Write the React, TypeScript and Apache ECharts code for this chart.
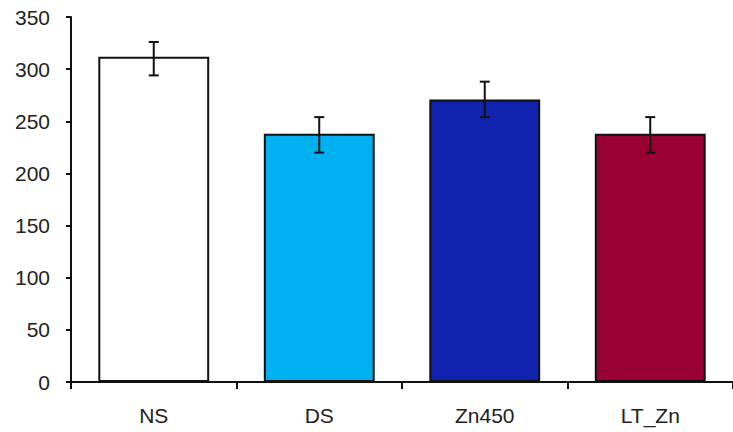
import React, { useEffect, useRef } from "react";
import * as echarts from "echarts";

const categories = ["NS", "DS", "Zn450", "LT_Zn"];
const means = [312, 238, 271, 238];
const errLow = [294, 220, 254, 220];
const errHigh = [326, 254, 288, 254];
const barColors = ["#FFFFFF", "#00B0F0", "#1122AE", "#990033"];
const yTicks = { min: 0, max: 350, interval: 50 };

export default function App() {
  const ref = useRef<HTMLDivElement>(null);
  useEffect(() => {
    if (!ref.current) return;
    const chart = echarts.init(ref.current, null, { renderer: "svg" });
    const font = "'Liberation Sans', Arial, sans-serif";
    chart.setOption({
      animation: false,
      backgroundColor: "#FFFFFF",
      grid: { left: 71, top: 17, width: 670, bottom: 50, containLabel: false },
      xAxis: {
        type: "category",
        data: categories,
        boundaryGap: true,
        axisLine: { show: true, lineStyle: { color: "#111", width: 2 } },
        axisTick: { show: true, alignWithLabel: false, length: 7, lineStyle: { color: "#111", width: 2 } },
        axisLabel: { color: "#222", fontSize: 21, fontFamily: font, margin: 23 },
        splitLine: { show: false },
      },
      yAxis: {
        type: "value",
        min: yTicks.min,
        max: yTicks.max,
        interval: yTicks.interval,
        axisLine: { show: true, lineStyle: { color: "#111", width: 2 } },
        axisTick: { show: true, length: 5, lineStyle: { color: "#111", width: 2 } },
        axisLabel: { color: "#222", fontSize: 21, fontFamily: font, margin: 21 },
        splitLine: { show: false },
      },
      series: [
        {
          type: "bar",
          barWidth: "67%",
          data: means.map((v, i) => ({
            value: v,
            itemStyle: { color: barColors[i], borderColor: "#111", borderWidth: 2 },
          })),
        },
        {
          type: "custom",
          z: 10,
          data: categories.map((_, i) => [i, errLow[i], errHigh[i]]),
          encode: { x: 0, y: [1, 2] },
          renderItem: (params: any, api: any) => {
            const x = api.value(0);
            const lo = api.coord([x, api.value(1)]);
            const hi = api.coord([x, api.value(2)]);
            const half = 5;
            const style = { stroke: "#111", lineWidth: 2 };
            return {
              type: "group",
              children: [
                { type: "line", shape: { x1: lo[0], y1: lo[1], x2: hi[0], y2: hi[1] }, style },
                { type: "line", shape: { x1: hi[0] - half, y1: hi[1], x2: hi[0] + half, y2: hi[1] }, style },
                { type: "line", shape: { x1: lo[0] - half, y1: lo[1], x2: lo[0] + half, y2: lo[1] }, style },
              ],
            };
          },
        },
      ],
    });
    return () => chart.dispose();
  }, []);
  return <div ref={ref} style={{ width: 733, height: 432, position: "absolute", left: 0, top: 0 }} />;
}
